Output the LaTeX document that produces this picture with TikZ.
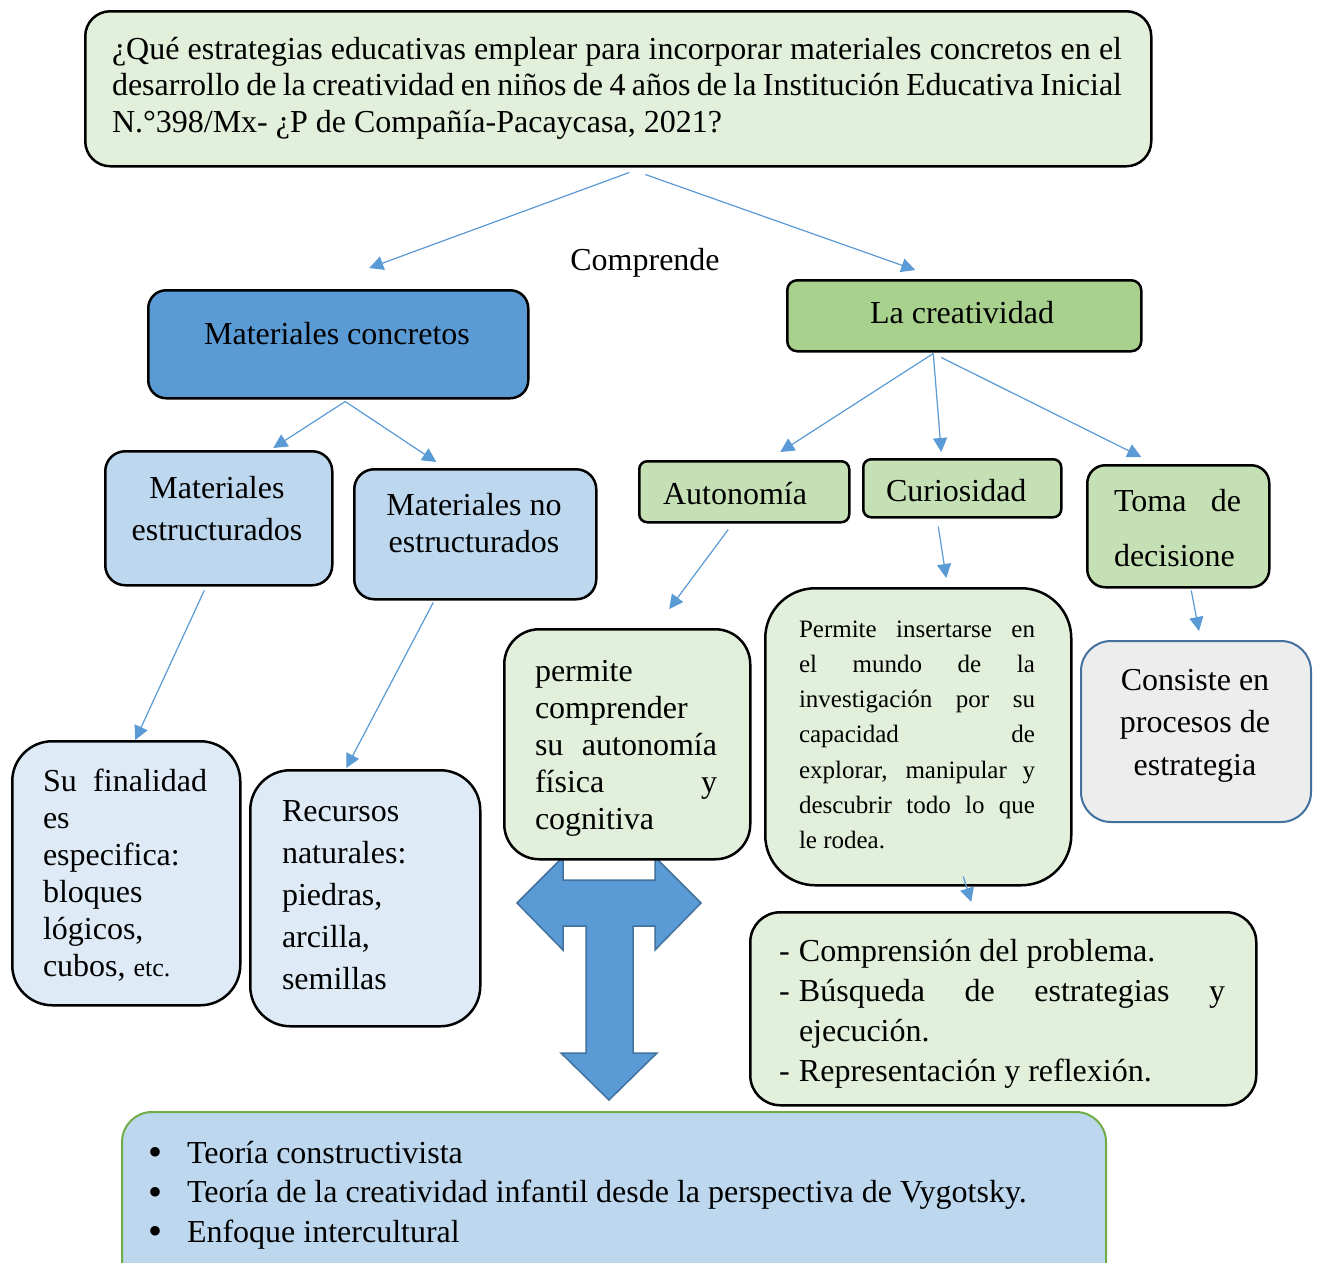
\documentclass[tikz,border=0pt]{standalone}
\usepackage{fontspec}
\setmainfont{Liberation Serif}
\usetikzlibrary{arrows.meta}
\definecolor{cTop}{HTML}{E2EFDA}
\definecolor{cMid}{HTML}{5B9BD5}
\definecolor{cMidD}{HTML}{41719C}
\definecolor{cCre}{HTML}{A9D18E}
\definecolor{cLB}{HTML}{BDD7EE}
\definecolor{cSub}{HTML}{C5E0B4}
\definecolor{cPB}{HTML}{DEEBF7}
\definecolor{cGr}{HTML}{EDEDED}
\definecolor{cGrn}{HTML}{70AD47}
\tikzset{
  bx/.style={draw=black, line width=2.5pt, rounded corners=#1, anchor=north west, inner sep=0pt},
  bx/.default=20pt,
  tx/.style={inner sep=0pt, outer sep=0pt},
  arr/.style={draw=cMid, line width=1.2pt, -{Triangle[length=14pt,width=14pt]}, fill=cMid},
  big/.style={font=\fontsize{32}{37}\selectfont},
}
\newcommand\bul{\makebox[37pt][l]{\hspace*{-2pt}\smash{\raisebox{-2.5pt}{\fontsize{40}{39.5}\selectfont •}}}}
\begin{document}
\begin{tikzpicture}[x=1pt, y=-1pt]
\useasboundingbox[fill=white] (0,0) rectangle (1317,1262);

% T-shaped arrow (behind the "permite" box)
\draw[fill=cMid, draw=cMidD, line width=1.5pt, line join=miter]
  (517,903) -- (563,857) -- (563,880) -- (655,880) -- (655,857) -- (701,903)
  -- (655,950) -- (655,926) -- (633,926) -- (633,1053) -- (657,1053) -- (609,1100)
  -- (561,1053) -- (586,1053) -- (586,926) -- (563,926) -- (563,950) -- cycle;

% boxes
\node[bx=25pt, fill=cTop, minimum width=1066pt, minimum height=155pt] (top) at (84,10) {};
\node[bx=18pt, fill=cMid, minimum width=380pt, minimum height=108pt] (matconc) at (147,289) {};
\node[bx=10pt, fill=cCre, minimum width=354pt, minimum height=71pt] (creat) at (786,279) {};
\node[bx=20pt, fill=cLB, minimum width=227pt, minimum height=134pt] (matest) at (104,450) {};
\node[bx=20pt, fill=cLB, minimum width=242pt, minimum height=130pt] (matnoest) at (353,468) {};
\node[bx=8pt, fill=cSub, minimum width=210pt, minimum height=61pt] (auton) at (638,460) {};
\node[bx=8pt, fill=cSub, minimum width=198pt, minimum height=58pt] (curio) at (862,458) {};
\node[bx=18pt, fill=cSub, minimum width=182pt, minimum height=122pt] (toma) at (1086,464) {};
\node[bx=40pt, fill=cPB, minimum width=228pt, minimum height=264pt] (sufin) at (11,740) {};
\node[bx=40pt, fill=cPB, minimum width=230pt, minimum height=256pt] (recur) at (249,769) {};
\node[bx=35pt, fill=cTop, minimum width=246pt, minimum height=230pt] (permite) at (503,628) {};
\node[bx=50pt, fill=cTop, minimum width=306pt, minimum height=297pt] (insert) at (764,587) {};
\node[bx=30pt, fill=cGr, draw=cMidD, line width=2pt, minimum width=230pt, minimum height=181pt] (consiste) at (1080,640) {};
\node[bx=30pt, fill=cTop, minimum width=506pt, minimum height=193pt] (compren) at (749,911) {};
\node[bx=30pt, fill=cLB, draw=cGrn, line width=2pt, minimum width=984pt, minimum height=190pt] (bottom) at (121,1111) {};

% texts
\node[tx, anchor=base west] (ttop) at (112,59) {\parbox[t]{1010pt}{\fontsize{32}{36.5}\selectfont
\makebox[\linewidth][s]{¿Qué estrategias educativas emplear para incorporar materiales concretos en el}\\
\makebox[\linewidth][s]{desarrollo de la creatividad en niños de 4 años de la Institución Educativa Inicial}\\
N.°398/Mx- ¿P de Compañía-Pacaycasa, 2021?}};
\node[tx, anchor=base, big] (tcomp) at (645,270) {Comprende};
\node[tx, anchor=base, big] (tmatconc) at (337,344) {Materiales concretos};
\node[tx, anchor=base, big] (tcreat) at (962,323) {La creatividad};
\node[tx, anchor=base] (tmatest) at (217,498) {\parbox[t]{220pt}{\fontsize{32}{42}\selectfont\centering Materiales\\ estructurados}};
\node[tx, anchor=base] (tmatnoest) at (474,515) {\parbox[t]{236pt}{\fontsize{32}{37}\selectfont\centering Materiales no\\ estructurados}};
\node[tx, anchor=base west, big] (tauton) at (663,504) {Autonomía};
\node[tx, anchor=base west, big] (tcurio) at (886,501) {Curiosidad};
\node[tx, anchor=base west] (ttoma) at (1114,511) {\parbox[t]{127pt}{\fontsize{32}{55}\selectfont
\makebox[\linewidth][s]{Toma de}\\ decisione}};
\node[tx, anchor=base west] (tsufin) at (43,791) {\parbox[t]{170pt}{\fontsize{32}{37}\selectfont
\makebox[164pt][s]{Su finalidad}\\ es\\ especifica:\\ bloques\\ lógicos,\\ cubos, {\fontsize{26}{37}\selectfont etc.}}};
\node[tx, anchor=base west] (trecur) at (282,821) {\parbox[t]{180pt}{\fontsize{32}{42}\selectfont
Recursos\\ naturales:\\ piedras,\\ arcilla,\\ semillas}};
\node[tx, anchor=base west] (tpermite) at (535,681) {\parbox[t]{182pt}{\fontsize{32}{37}\selectfont
permite\\ comprender\\ \makebox[\linewidth][s]{su autonomía}\\ \makebox[\linewidth][s]{física y}\\ cognitiva}};
\node[tx, anchor=base west] (tinsert) at (799,637) {\parbox[t]{236pt}{\fontsize{25}{35.3}\selectfont
\makebox[\linewidth][s]{Permite insertarse en}\\
\makebox[\linewidth][s]{el mundo de la}\\
\makebox[\linewidth][s]{investigación por su}\\
\makebox[\linewidth][s]{capacidad de}\\
\makebox[\linewidth][s]{explorar, manipular y}\\
\makebox[\linewidth][s]{descubrir todo lo que}\\
le rodea.}};
\node[tx, anchor=base] (tconsiste) at (1195,690) {\parbox[t]{220pt}{\fontsize{32}{42.5}\selectfont\centering
Consiste en\\ procesos de\\ estrategia}};
\node[tx, anchor=base west] (tcompren) at (779,961) {\parbox[t]{446pt}{\fontsize{32}{40}\selectfont
\makebox[20pt][l]{-}Comprensión del problema.\\
\makebox[20pt][l]{-}\makebox[426pt][s]{Búsqueda de estrategias y}\\
\hspace*{20pt}ejecución.\\
\makebox[20pt][l]{-}Representación y reflexión.}};
\node[tx, anchor=base west] (tbottom) at (150,1163) {\parbox[t]{950pt}{\fontsize{32}{39.5}\selectfont
\bul Teoría constructivista\\
\bul Teoría de la creatividad infantil desde la perspectiva de Vygotsky.\\
\bul Enfoque intercultural}};

% connectors
\draw[arr] ([shift={(11,5)}]top.south) -- ([shift={(31,-21)}]matconc.north);
\draw[arr] ([shift={(27,7)}]top.south) -- ([shift={(-49,-9)}]creat.north);
\draw[arr] ([shift={(7,2)}]matconc.south) -- ([shift={(54.5,-2)}]matest.north);
\draw[arr] ([shift={(7,2)}]matconc.south) -- ([shift={(-39,-6)}]matnoest.north);
\draw[arr] ([shift={(-31,1)}]creat.south) -- ([shift={(36,-8)}]auton.north);
\draw[arr] ([shift={(-31,1)}]creat.south) -- ([shift={(-21,-6)}]curio.north);
\draw[arr] ([shift={(-23,5)}]creat.south) -- ([shift={(-37,-7)}]toma.north);
\draw[arr] ([shift={(-14.5,4)}]matest.south) -- ([shift={(9,0)}]sufin.north);
\draw[arr] ([shift={(-42,2)}]matnoest.south) -- ([shift={(-19,-1)}]recur.north);
\draw[arr] ([shift={(-16,6)}]auton.south) -- ([shift={(42,-19)}]permite.north);
\draw[arr] ([shift={(-24,8)}]curio.south) -- ([shift={(28,-9)}]insert.north);
\draw[arr] ([shift={(13,2)}]toma.south) -- ([shift={(3,-9)}]consiste.north);
\draw[arr] ([shift={(45,-10)}]insert.south) -- ([shift={(-32,-9)}]compren.north);
\end{tikzpicture}
\end{document}
